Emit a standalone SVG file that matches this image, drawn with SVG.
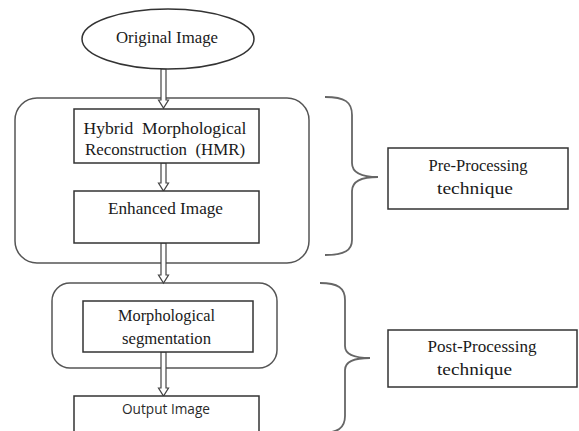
<svg xmlns="http://www.w3.org/2000/svg" width="579" height="431" viewBox="0 0 579 431">
<style>
.bg{fill:#fff}
.grp{fill:none;stroke:#555;stroke-width:1.5}
.box{fill:#fff;stroke:#333;stroke-width:1.5}
.brace{fill:none;stroke:#666;stroke-width:1.8}
.arrow{fill:#fff;stroke:#444;stroke-width:1.2;stroke-linejoin:miter}
.t{font-family:"Liberation Serif","Times New Roman",serif;font-size:17.5px;fill:#1a1a1a;text-anchor:middle}
.s{font-family:"Open Sans","Noto Sans",sans-serif;font-size:15px;fill:#2a2a2a;text-anchor:middle}
</style>
<rect class="bg" x="0" y="0" width="579" height="431"/>
<g id="groups">
<rect id="pre-group" class="grp" x="15" y="98" width="294" height="165" rx="22"/>
<rect id="post-group" class="grp" x="52" y="283" width="225" height="85" rx="18"/>
</g>
<g id="connectors">
<path class="arrow" d="M161 69 V100 H158.5 L163.5 108 L168.5 100 H166 V69 Z"/>
<path class="arrow" d="M161 163 V183 H158.5 L163.5 191 L168.5 183 H166 V163 Z"/>
<path class="arrow" d="M161 243 V275 H158.5 L163.5 283 L168.5 275 H166 V243 Z"/>
<path class="arrow" d="M161 352 V388 H158.5 L163.5 396 L168.5 388 H166 V352 Z"/>
</g>
<g id="original-image">
<ellipse class="box" cx="168" cy="39" rx="86" ry="30"/>
<text class="t" x="167" y="43" textLength="102" lengthAdjust="spacingAndGlyphs">Original Image</text>
</g>
<g id="hmr">
<rect class="box" x="74" y="109" width="185" height="54"/>
<text class="t" x="165" y="134" textLength="163" lengthAdjust="spacingAndGlyphs" xml:space="preserve">Hybrid  Morphological</text>
<text class="t" x="165" y="155" textLength="160" lengthAdjust="spacingAndGlyphs" xml:space="preserve">Reconstruction  (HMR)</text>
</g>
<g id="enhanced-image">
<rect class="box" x="74" y="191" width="185" height="52"/>
<text class="t" x="165.5" y="214" textLength="115" lengthAdjust="spacingAndGlyphs">Enhanced Image</text>
</g>
<g id="morph-seg">
<rect class="box" x="83" y="301" width="170" height="51"/>
<text class="t" x="166.5" y="321" textLength="97" lengthAdjust="spacingAndGlyphs">Morphological</text>
<text class="t" x="166.5" y="344" textLength="89" lengthAdjust="spacingAndGlyphs">segmentation</text>
</g>
<g id="output-image">
<rect class="box" x="74" y="396" width="185" height="40"/>
<text class="s" x="166" y="414" textLength="88" lengthAdjust="spacingAndGlyphs">Output Image</text>
</g>
<g id="pre-brace">
<path class="brace" d="M325 97 C345 97 352 102 352 115 V163 C352 172 360 177 378 177 C360 177 352 182 352 191 V240 C352 250 345 255 325 255"/>
</g>
<g id="post-brace">
<path class="brace" d="M320 283 C338 283 345 288 345 300 V346 C345 354 352 358 370 358 C352 358 345 362 345 370 V416 C345 428 338 433 320 433"/>
</g>
<g id="pre-processing">
<rect class="box" x="388" y="148" width="180" height="61"/>
<text class="t" x="478" y="171" textLength="99" lengthAdjust="spacingAndGlyphs">Pre-Processing</text>
<text class="t" x="475" y="194" textLength="76" lengthAdjust="spacingAndGlyphs">technique</text>
</g>
<g id="post-processing">
<rect class="box" x="388" y="330" width="189" height="57"/>
<text class="t" x="482" y="352" textLength="109" lengthAdjust="spacingAndGlyphs">Post-Processing</text>
<text class="t" x="474.5" y="375" textLength="75" lengthAdjust="spacingAndGlyphs">technique</text>
</g>
</svg>
